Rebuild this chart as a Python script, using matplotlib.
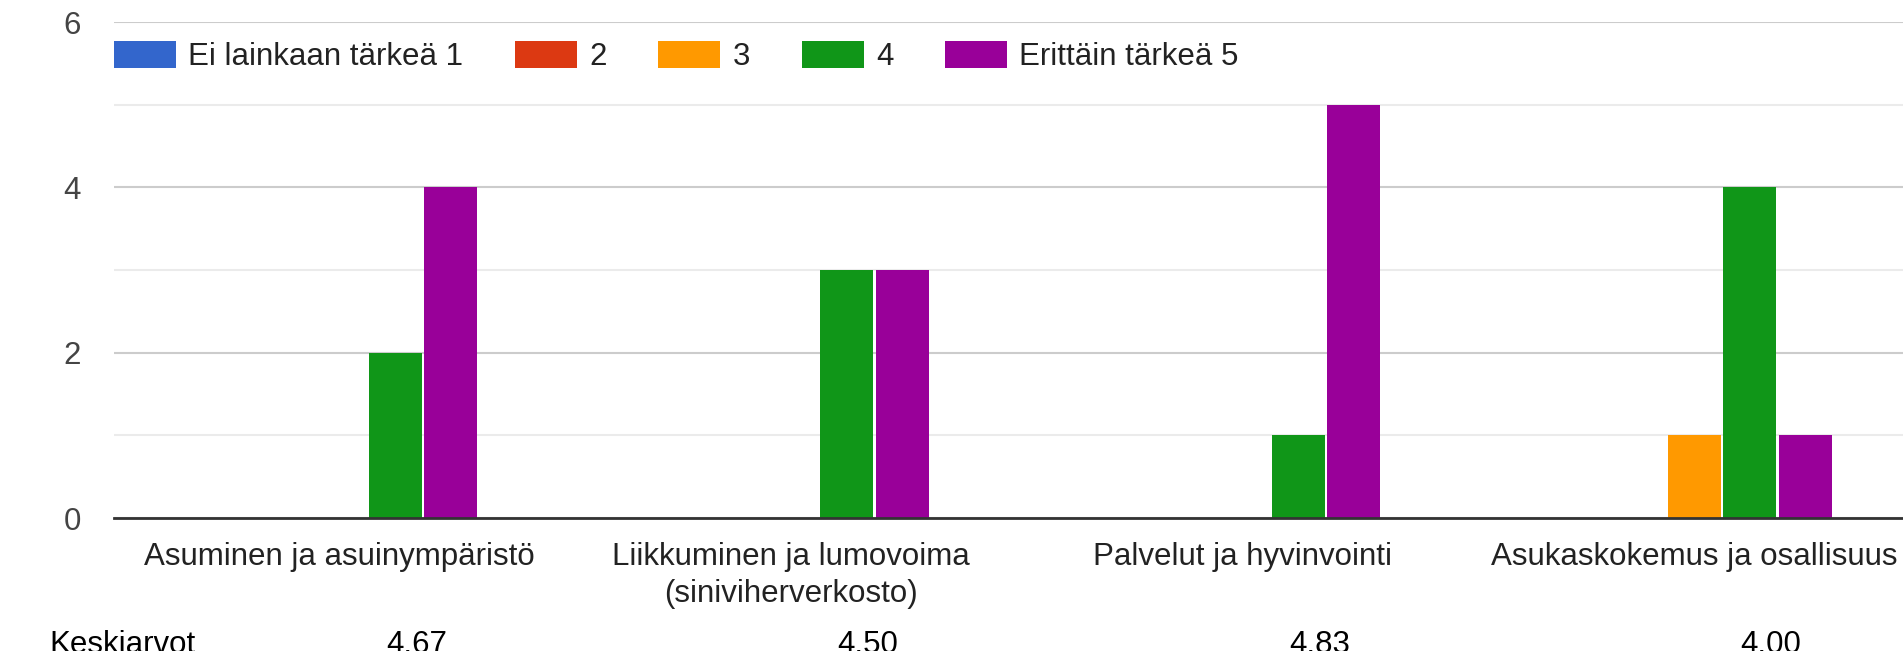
import matplotlib.pyplot as plt
import numpy as np
from matplotlib.patches import Patch
from matplotlib.transforms import blended_transform_factory

plt.rcParams['font.family'] = ['Liberation Sans', 'DejaVu Sans']

categories = [
    "Asuminen ja asuinympäristö",
    "Liikkuminen ja lumovoima\n(siniviherverkosto)",
    "Palvelut ja hyvinvointi",
    "Asukaskokemus ja osallisuus",
]
series_names = ["Ei lainkaan tärkeä 1", "2", "3", "4", "Erittäin tärkeä 5"]
counts_1 = [0, 0, 0, 0]
counts_2 = [0, 0, 0, 0]
counts_3 = [0, 0, 0, 1]
counts_4 = [2, 3, 1, 4]
counts_5 = [4, 3, 5, 1]
means = ["4.67", "4.50", "4.83", "4.00"]
mean_label = "Keskiarvot"

colors = ["#3366cc", "#dc3912", "#ff9900", "#109618", "#990099"]
series = [counts_1, counts_2, counts_3, counts_4, counts_5]

fig = plt.figure(figsize=(19.03, 6.51), dpi=100)
ax = fig.add_axes([114 / 1903, 1 - 518 / 651, 1806 / 1903, 496 / 651])

x = np.arange(len(categories))
step, width = 0.123, 0.117
for i, (vals, col) in enumerate(zip(series, colors)):
    ax.bar(x + (i - 2) * step, vals, width=width, color=col, zorder=3)

ax.set_xlim(-0.5, len(categories) - 0.5)
ax.set_ylim(0, 6)
ax.set_yticks([0, 2, 4, 6])
ax.set_yticks([1, 3, 5], minor=True)
ax.grid(axis='y', which='major', color='#cccccc', linewidth=1.5, zorder=0)
ax.grid(axis='y', which='minor', color='#ebebeb', linewidth=1.5, zorder=0)
for sp in ['top', 'right', 'left']:
    ax.spines[sp].set_visible(False)
ax.spines['bottom'].set_color('#333333')
ax.spines['bottom'].set_linewidth(2)
ax.spines['bottom'].set_zorder(4)

ax.set_xticks(x)
ax.set_xticklabels(categories, fontsize=22.5, color='#222222', linespacing=1.3)
ax.tick_params(axis='x', length=0, pad=17)
ax.tick_params(axis='y', which='both', length=0, pad=24, labelsize=22.5,
               labelcolor='#444444')
for lab in ax.get_yticklabels():
    lab.set_clip_on(False)

handles = [Patch(facecolor=c, edgecolor='none') for c in colors]
leg = ax.legend(handles, series_names, loc='center left',
                bbox_to_anchor=(0, 5.58 / 6), ncol=5, frameon=False,
                fontsize=22.5, handlelength=1.98, handleheight=0.93,
                handletextpad=0.4, columnspacing=1.65, borderpad=0,
                borderaxespad=0)
for t in leg.get_texts():
    t.set_color('#222222')

# averages row sits below the category labels, partly past the bottom edge
trans = blended_transform_factory(ax.transData, fig.transFigure)
fig.text(49 / 1903, 1 - 630 / 651, mean_label, fontsize=22.5, va='top',
         color='black')
for xi, m in zip(x, means):
    ax.text(xi + 0.17, 1 - 630 / 651, m, transform=trans, fontsize=22.5,
            ha='center', va='top', color='black', clip_on=False)

fig.savefig("out.png", dpi=100)
